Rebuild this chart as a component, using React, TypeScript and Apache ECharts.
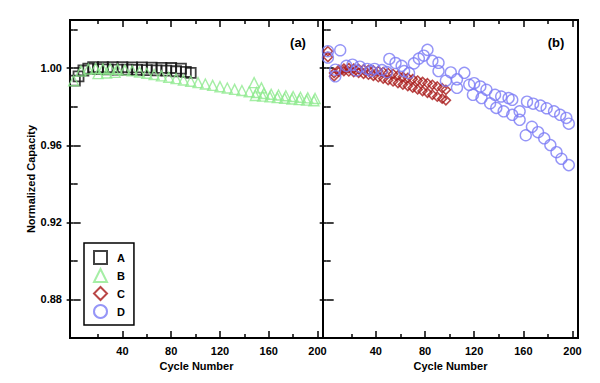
import React, { useEffect, useRef } from "react";
import * as echarts from "echarts";

// ---- ticks & labels ----
const xMajorTicks = [40, 80, 120, 160, 200];
const xMinorTicks = [20, 60, 100, 140, 180];
const yMajorTicks = [0.88, 0.92, 0.96, 1.0];
const yMinorTicks = [0.9, 0.94, 0.98, 1.02];
const panelLabels = ["(a)", "(b)"];
const legendNames = ["A", "B", "C", "D"];
const xTitle = "Cycle Number";
const yTitle = "Normalized Capacity";

// ---- panel (a) ----
const cellA: number[][] = [
  [1, 0.9935], [4, 0.9958], [8, 0.9988], [12, 0.9998], [16, 1.0005], [20, 0.9995],
  [24, 1.0006], [28, 0.9994], [32, 1.0006], [36, 0.9993], [40, 1.0005], [44, 0.9992],
  [48, 1.0004], [52, 0.9991], [56, 1.0004], [60, 0.999], [64, 1.0003], [68, 0.9989],
  [72, 1.0002], [76, 0.9987], [80, 1.0001], [84, 0.9984], [88, 0.9998], [92, 0.9981],
  [96, 0.9976],
];
const cellB1: number[][] = [
  [0, 0.9935], [6, 0.9985], [12, 0.9996], [18, 0.9998], [24, 0.9997], [30, 0.9996],
  [36, 0.9994], [42, 0.999], [48, 0.9986], [54, 0.998], [60, 0.9974], [66, 0.9967],
  [72, 0.996], [78, 0.9953], [84, 0.9946], [90, 0.9939], [96, 0.9932], [102, 0.9925],
  [108, 0.9918], [114, 0.9911], [120, 0.9904], [126, 0.9897], [132, 0.989], [138, 0.9884],
  [144, 0.9878], [150, 0.9874], [156, 0.9869], [162, 0.9865], [168, 0.9861], [174, 0.9857],
  [180, 0.9853], [186, 0.9849], [192, 0.9846], [198, 0.9843],
];
const cellB2: number[][] = [
  [20, 0.9972], [27, 0.9975], [34, 0.9978], [148, 0.9925], [154, 0.9898], [149, 0.9858],
  [155, 0.9855], [161, 0.9851], [167, 0.9847], [173, 0.9844], [179, 0.984], [185, 0.9837],
  [191, 0.9834], [197, 0.9831],
];

// ---- panel (b) ----
const cellC1: number[][] = [
  [1, 1.0088], [6, 0.9975], [10, 0.9992], [14, 0.9998], [18, 1.0], [22, 0.9998],
  [26, 0.9996], [30, 0.9994], [34, 0.9991], [38, 0.9988], [42, 0.9985], [46, 0.998],
  [50, 0.9975], [54, 0.997], [58, 0.9963], [62, 0.9955], [66, 0.995], [70, 0.9943],
  [74, 0.9936], [78, 0.9929], [82, 0.9922], [86, 0.9914], [90, 0.9905], [94, 0.9896],
  [97, 0.9888],
];
const cellC2: number[][] = [
  [1, 1.0058], [6, 0.9958], [10, 0.9982], [14, 0.9985], [18, 0.9983], [22, 0.998],
  [26, 0.9976], [30, 0.9971], [34, 0.9966], [38, 0.996], [42, 0.9953], [46, 0.9946],
  [50, 0.9938], [54, 0.9931], [58, 0.9923], [62, 0.9915], [66, 0.9907], [70, 0.9899],
  [74, 0.989], [78, 0.9881], [82, 0.9872], [86, 0.9862], [90, 0.9852], [94, 0.9842],
  [97, 0.9833],
];
const cellD: number[][] = [
  [1, 1.0088], [1, 1.0055], [11, 1.0093], [7, 0.9992], [7, 0.9958],
  [16, 1.0012], [21, 1.0018], [24, 0.9988], [27, 1.0008], [33, 0.9996], [36, 0.9985],
  [39, 0.9996], [45, 0.999], [49, 0.998], [51, 1.0048], [56, 1.0027], [61, 1.0012],
  [63, 0.9985], [67, 0.9975], [71, 1.0025], [75, 1.005], [79, 1.0065], [82, 1.0095],
  [86, 1.0038], [91, 1.0028], [91, 0.9985], [97, 0.9935], [101, 0.9978], [106, 0.9942],
  [106, 0.9898], [112, 0.9976], [116, 0.9914], [120, 0.9922], [119, 0.9862], [125, 0.9905],
  [126, 0.9845], [130, 0.9888], [133, 0.9818], [137, 0.9862], [138, 0.9794], [142, 0.9853],
  [144, 0.9776], [148, 0.9845], [151, 0.9836], [151, 0.9758], [157, 0.9776], [157, 0.9732],
  [162, 0.9652], [163, 0.9826], [167, 0.9696], [168, 0.9816], [172, 0.9668], [174, 0.9806],
  [177, 0.9636], [179, 0.9792], [182, 0.9601], [185, 0.9776], [187, 0.9564], [190, 0.9758],
  [191, 0.953], [195, 0.9742], [197, 0.9497], [197, 0.9712],
];

export default function App() {
  const ref = useRef<HTMLDivElement>(null);
  useEffect(() => {
    if (!ref.current) return;
    const chart = echarts.init(ref.current, null, { renderer: "svg" });
    const font = "'Liberation Sans', Arial, sans-serif";
    const xMin = -3, xMax = 204.5, yMin = 0.86, yMax = 1.025;
    const grids = [
      { left: 70, top: 20, width: 253, height: 318 },
      { left: 323, top: 20, width: 255, height: 318 },
    ];
    const tickLine = { color: "#000", width: 1.5 };
    const labelStyle = { fontFamily: font, fontWeight: "bold" as const, fontSize: 11, color: "#000" };
    const xAxes: any[] = [];
    const yAxes: any[] = [];
    grids.forEach((_, gi) => {
      ["bottom", "top"].forEach((pos) => {
        [true, false].forEach((major) => {
          const isMain = pos === "bottom" && major;
          xAxes.push({
            type: "value", gridIndex: gi, position: pos, min: xMin, max: xMax,
            axisLine: { show: false }, splitLine: { show: false },
            axisTick: { show: true, inside: true, length: major ? 7 : 4, customValues: major ? xMajorTicks : xMinorTicks, lineStyle: tickLine },
            axisLabel: isMain ? { show: true, customValues: xMajorTicks, margin: 7, ...labelStyle } : { show: false },
            name: isMain ? xTitle : "", nameLocation: "middle", nameGap: 21,
            nameTextStyle: labelStyle,
          });
        });
      });
      ["left", "right"].forEach((pos) => {
        [true, false].forEach((major) => {
          const isMain = gi === 0 && pos === "left" && major;
          yAxes.push({
            type: "value", gridIndex: gi, position: pos, min: yMin, max: yMax,
            axisLine: { show: false }, splitLine: { show: false },
            axisTick: { show: true, inside: true, length: major ? 7 : 4, customValues: major ? yMajorTicks : yMinorTicks, lineStyle: tickLine },
            axisLabel: isMain ? { show: true, customValues: yMajorTicks, margin: 8, formatter: (v: number) => v.toFixed(2), ...labelStyle } : { show: false },
            name: isMain ? yTitle : "", nameLocation: "middle", nameGap: 31, nameRotate: 90,
            nameTextStyle: labelStyle,
          });
        });
      });
    });

    chart.setOption({
      animation: false,
      backgroundColor: "#fff",
      grid: grids.map((g) => ({ ...g, show: true, borderColor: "#000", borderWidth: 2, backgroundColor: "transparent" })),
      xAxis: xAxes,
      yAxis: yAxes,
      legend: {
        data: legendNames, orient: "vertical", left: 84, top: 243,
        itemWidth: 13, itemHeight: 13, itemGap: 3, padding: [7, 9, 6, 9],
        borderColor: "#000", borderWidth: 1.5, selectedMode: false,
        textStyle: { ...labelStyle, padding: [0, 0, 0, 5], lineHeight: 13 },
      },
      graphic: panelLabels.map((t, i) => ({
        type: "text", x: [298, 556][i], y: 42,
        style: { text: t, fill: "#000", font: `bold 13px ${font}`, textAlign: "center", textVerticalAlign: "middle" },
      })),
      series: [
        { name: "A", type: "scatter", xAxisIndex: 0, yAxisIndex: 0, data: cellA, symbol: "rect", symbolSize: 10,
          itemStyle: { color: "transparent", borderColor: "#111", borderWidth: 1.8 } },
        { name: "B", type: "scatter", xAxisIndex: 0, yAxisIndex: 0, data: [...cellB1, ...cellB2], symbol: "triangle", symbolSize: 10,
          itemStyle: { color: "transparent", borderColor: "#8EEA8E", borderWidth: 1.4 } },
        { name: "C", type: "scatter", xAxisIndex: 4, yAxisIndex: 4, data: [...cellC1, ...cellC2], symbol: "diamond", symbolSize: 9,
          itemStyle: { color: "transparent", borderColor: "#A81818", borderWidth: 1.6 } },
        { name: "D", type: "scatter", xAxisIndex: 4, yAxisIndex: 4, data: cellD, symbol: "circle", symbolSize: 11,
          itemStyle: { color: "transparent", borderColor: "#7B7BF5", borderWidth: 1.4 } },
      ],
    });
    return () => chart.dispose();
  }, []);
  return <div ref={ref} style={{ position: "fixed", left: 0, top: 0, width: 600, height: 383 }} />;
}
